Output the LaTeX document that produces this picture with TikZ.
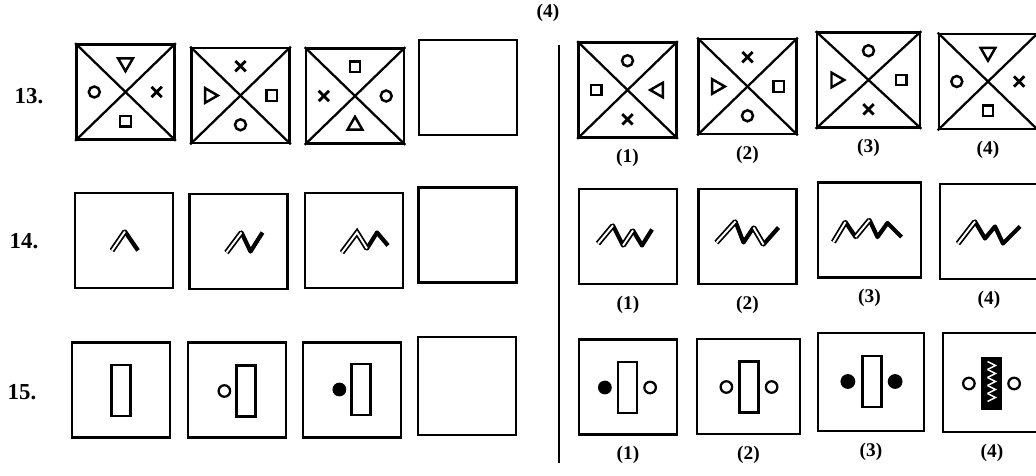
\documentclass[tikz,border=0pt]{standalone}
\usepackage{fontspec}
\setmainfont{Liberation Serif}
\usetikzlibrary{positioning,calc,shapes.geometric,shapes.misc}

\begin{document}
\begin{tikzpicture}[
    x=0.02cm, y=-0.02cm,
    fig/.style={draw, line width=1.5pt, minimum width=1.96cm, minimum height=1.9cm, inner sep=0pt},
    diag/.style={line width=1.3pt},
    sym/.style={draw, line width=1.4pt, inner sep=0pt},
    symcirc/.style={sym, circle, minimum size=0.22cm},
    symsq/.style={sym, rectangle, minimum size=0.21cm},
    symx/.style={sym, cross out, minimum size=0.15cm, line width=1.6pt},
    symtri/.style={sym, regular polygon, regular polygon sides=3, minimum size=0.34cm},
    triu/.style={symtri},
    trid/.style={symtri, regular polygon rotate=180},
    tril/.style={symtri, regular polygon rotate=90},
    trir/.style={symtri, regular polygon rotate=-90},
    solz/.style={line width=2.4pt, line join=round},
    dblz/.style={line width=1pt, double=white, double distance=1.1pt},
    bar/.style={draw, line width=1.4pt, minimum width=0.38cm, minimum height=1.02cm, inner sep=0pt},
    dotopen/.style={draw, circle, line width=1.3pt, minimum size=0.23cm, inner sep=0pt},
    dotfull/.style={dotopen, fill=black},
    qnum/.style={font=\bfseries\fontsize{13}{15}\selectfont},
    optlbl/.style={font=\bfseries\fontsize{11}{13}\selectfont, inner sep=0pt},
    node distance=0.2cm
  ]
    \useasboundingbox (0,0) rectangle (1036,476);

    % question numbers and divider
    \node[qnum] (n13) at (29,96) {13.};
    \node[qnum] (n14) at (24,241) {14.};
    \node[qnum] (n15) at (22,392) {15.};
    \node[optlbl] (prev) at (548,13) {(4)};
    \coordinate (divtop) at (559,45);
    \coordinate (divbot) at (559,463);
    \draw[line width=1.3pt] (divtop) -- (divbot);

    % row 13
    \node[fig] (p13a) at (125.5,92) {};
    \node[fig] (p13b) at (240.5,95.5) {};
    \node[fig] (p13c) at (355,96) {};
    \node[fig] (p13d) at (468,87.5) {};
    \node[fig] (o13a) at (627.5,90) {};
    \node[fig] (o13b) at (747.5,86.5) {};
    \node[fig, minimum width=2.06cm] (o13c) at (868.5,80) {};
    \node[fig] (o13d) at (988,81.5) {};
    \foreach \b/\ta/\tb/\tc/\td in {p13a/trid/symcirc/symx/symsq, p13b/symx/trir/symsq/symcirc,
        p13c/symsq/symx/symcirc/triu, o13a/symcirc/symsq/tril/symx, o13b/symx/trir/symsq/symcirc,
        o13c/symcirc/trir/symsq/symx, o13d/trid/symcirc/symx/symsq}{
      \draw[diag] (\b.north west) -- (\b.south east);
      \draw[diag] (\b.north east) -- (\b.south west);
      \node[\ta] (\b-t) at ($(\b.center)!0.6!(\b.north)$) {};
      \node[\tb] (\b-l) at ($(\b.center)!0.62!(\b.west)$) {};
      \node[\tc] (\b-r) at ($(\b.center)!0.62!(\b.east)$) {};
      \node[\td] (\b-b) at ($(\b.center)!0.6!(\b.south)$) {};
    }
    \node[optlbl, below=of o13a] (l13a) {(1)};
    \node[optlbl, below=of o13b] (l13b) {(2)};
    \node[optlbl, below=of o13c] (l13c) {(3)};
    \node[optlbl, below=of o13d] (l13d) {(4)};

    % row 14
    \node[fig] (p14a) at (124,240.5) {};
    \node[fig] (p14b) at (238.5,241.5) {};
    \node[fig] (p14c) at (354,240.5) {};
    \node[fig] (p14d) at (467.5,235) {};
    \node[fig] (o14a) at (628,236.5) {};
    \node[fig] (o14b) at (747.5,236.5) {};
    \node[fig, minimum width=2.06cm] (o14c) at (869.5,230) {};
    \node[fig] (o14d) at (989,231.5) {};
    \begin{scope}[shift={(p14a.center)}]
      \draw[solz] (-12,10) -- (1,-9) -- (14,10);
      \draw[dblz] (-12,10) -- (1,-9);
    \end{scope}
    \begin{scope}[shift={(p14b.center)}]
      \draw[solz] (-12,11) -- (3,-9) -- (12,10) -- (24,-9);
      \draw[dblz] (-12,11) -- (3,-9);
    \end{scope}
    \begin{scope}[shift={(p14c.center)}]
      \draw[solz] (-12,12) -- (3,-8) -- (13,8) -- (23,-8) -- (34,5);
      \draw[dblz] (-12,12) -- (3,-8) -- (13,8);
    \end{scope}
    \begin{scope}[shift={(o14a.center)}]
      \draw[solz] (-30,7) -- (-15,-11) -- (-5,9) -- (5,-6) -- (14,9) -- (24,-7);
      \draw[dblz] (-30,7) -- (-15,-11);
      \draw[dblz] (-5,9) -- (5,-6);
    \end{scope}
    \begin{scope}[shift={(o14b.center)}]
      \draw[solz] (-31,6) -- (-12,-15) -- (-4,6) -- (6,-9) -- (16,8) -- (31,-9);
      \draw[dblz] (-31,6) -- (-12,-15);
      \draw[dblz] (6,-9) -- (16,8);
    \end{scope}
    \begin{scope}[shift={(o14c.center)}]
      \draw[solz] (-36,12) -- (-24,-8) -- (-14,7) -- (0,-10) -- (8,7) -- (18,-7) -- (32,7);
      \draw[dblz] (-36,12) -- (-24,-8);
      \draw[dblz] (-14,7) -- (0,-10);
    \end{scope}
    \begin{scope}[shift={(o14d.center)}]
      \draw[solz] (-31,12) -- (-14,-10) -- (-4,7) -- (6,-5) -- (14,12) -- (31,-5);
      \draw[dblz] (-31,12) -- (-14,-10);
    \end{scope}
    \node[optlbl, below=of o14a] (l14a) {(1)};
    \node[optlbl, below=of o14b] (l14b) {(2)};
    \node[optlbl, below=of o14c] (l14c) {(3)};
    \node[optlbl, below=of o14d] (l14d) {(4)};

    % row 15
    \node[fig] (p15a) at (121,390) {};
    \node[fig] (p15b) at (237,390) {};
    \node[fig] (p15c) at (352,390) {};
    \node[fig, minimum height=1.96cm] (p15d) at (467,386) {};
    \node[fig] (o15a) at (628,387) {};
    \node[fig, minimum width=2.06cm] (o15b) at (748.5,386.5) {};
    \node[fig, minimum width=2.12cm, minimum height=1.96cm] (o15c) at (871,382) {};
    \node[fig, minimum height=1.98cm] (o15d) at (992,382.5) {};
    \node[bar] (p15a-bar) at (121,390.5) {};
    \node[bar] (p15b-bar) at (246,391) {};
    \node[dotopen, left=0.08cm of p15b-bar] (p15b-l) {};
    \node[bar] (p15c-bar) at (361,389.5) {};
    \node[dotfull, left=0.08cm of p15c-bar] (p15c-l) {};
    \node[bar] (o15a-bar) at (627.5,387.5) {};
    \node[dotfull, left=0.1cm of o15a-bar] (o15a-l) {};
    \node[dotopen, right=0.1cm of o15a-bar] (o15a-r) {};
    \node[bar] (o15b-bar) at (749,387) {};
    \node[dotopen, left=0.1cm of o15b-bar] (o15b-l) {};
    \node[dotopen, right=0.1cm of o15b-bar] (o15b-r) {};
    \node[bar] (o15c-bar) at (872,381.5) {};
    \node[dotfull, minimum size=0.25cm, left=0.12cm of o15c-bar] (o15c-l) {};
    \node[dotfull, minimum size=0.25cm, right=0.1cm of o15c-bar] (o15c-r) {};
    \node[bar, fill=black] (o15d-bar) at (991.5,383.5) {};
    \node[dotopen, left=0.1cm of o15d-bar] (o15d-l) {};
    \node[dotopen, right=0.1cm of o15d-bar] (o15d-r) {};
    \begin{scope}[shift={(o15d-bar.center)}]
      \foreach \yy in {-22,-14,...,14}
        \draw[white, line width=0.8pt] (-4,\yy) -- (4,\yy+4) -- (-4,\yy+8);
    \end{scope}
    \node[optlbl, below=of o15a] (l15a) {(1)};
    \node[optlbl, below=of o15b] (l15b) {(2)};
    \node[optlbl, below=of o15c] (l15c) {(3)};
    \node[optlbl, below=of o15d] (l15d) {(4)};
  \end{tikzpicture}
\end{document}
